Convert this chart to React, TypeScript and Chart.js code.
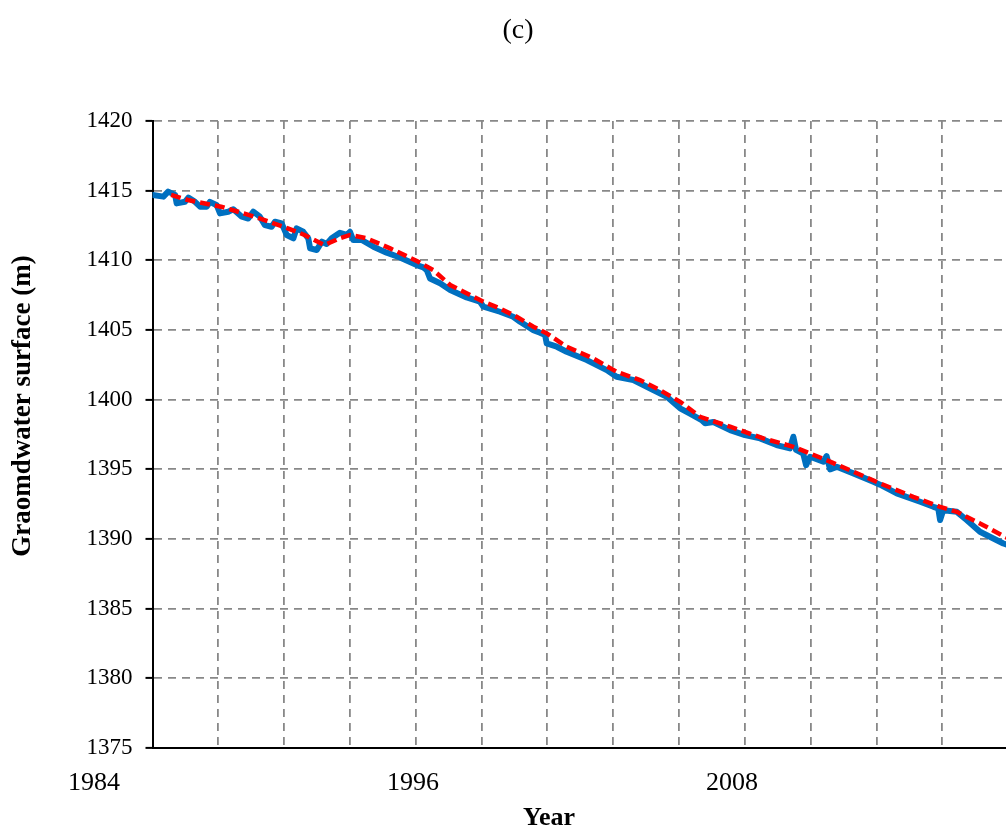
import React, { useEffect, useRef } from "react";
import { Chart, registerables } from "chart.js";

Chart.register(...registerables);

const TITLE = "(c)";
const X_TITLE = "Year";
const Y_TITLE = "Graomdwater surface (m)";
const X_LABEL_YEARS = [1984, 1996, 2008];
const X_MIN = 1986.2;
const X_MAX = 2018.31;
const X_GRID_STEP = 2.476;
const X_GRID_COUNT = 14;
const Y_MIN = 1375;
const Y_MAX = 1420;
const Y_STEP = 5;

const obsYears = [
  1986.21, 1986.61, 1986.79, 1987.05, 1987.11, 1987.42, 1987.55, 1987.8, 1987.99, 1988.24,
  1988.36, 1988.62, 1988.74, 1989.05, 1989.24, 1989.56, 1989.8, 1989.99, 1990.24, 1990.43,
  1990.68, 1990.81, 1991.06, 1991.25, 1991.5, 1991.62, 1991.87, 1992.06, 1992.13, 1992.38,
  1992.57, 1992.75, 1992.94, 1993.25, 1993.51, 1993.63, 1993.75, 1994.07, 1994.51, 1995.01,
  1995.51, 1996.14, 1996.39, 1996.52, 1996.64, 1997.02, 1997.4, 1998.02, 1998.52, 1998.65,
  1999.27, 1999.77, 2000.03, 2000.53, 2000.78, 2000.97, 2001.03, 2001.41, 2001.78, 2002.54,
  2003.29, 2003.66, 2004.29, 2005.04, 2005.55, 2006.05, 2006.42, 2006.86, 2006.99, 2007.3,
  2007.93, 2008.49, 2009.06, 2009.68, 2010.18, 2010.31, 2010.41, 2010.68, 2010.79, 2010.94,
  2011.44, 2011.56, 2011.69, 2011.94, 2012.57, 2013.32, 2013.57, 2014.2, 2015.08, 2015.58,
  2015.76, 2015.83, 2015.95, 2016.46, 2016.83, 2017.33, 2018.21, 2018.4,
];
const obsLevels = [
  1414.69, 1414.57, 1414.93, 1414.7, 1414.09, 1414.2, 1414.5, 1414.2, 1413.85, 1413.85,
  1414.2, 1413.95, 1413.37, 1413.49, 1413.66, 1413.13, 1413.0, 1413.49, 1413.13, 1412.53,
  1412.41, 1412.77, 1412.65, 1411.82, 1411.58, 1412.3, 1412.05, 1411.58, 1410.86, 1410.74,
  1411.34, 1411.17, 1411.58, 1411.98, 1411.82, 1412.05, 1411.46, 1411.46, 1410.98, 1410.55,
  1410.2, 1409.66, 1409.5, 1409.3, 1408.7, 1408.35, 1407.87, 1407.34, 1407.03, 1406.67,
  1406.31, 1405.95, 1405.59, 1404.99, 1404.8, 1404.64, 1404.04, 1403.8, 1403.44, 1402.84,
  1402.12, 1401.64, 1401.41, 1400.69, 1400.21, 1399.38, 1399.0, 1398.53, 1398.3, 1398.4,
  1397.82, 1397.46, 1397.22, 1396.74, 1396.5, 1397.34, 1396.4, 1396.14, 1395.3, 1395.9,
  1395.55, 1395.95, 1395.0, 1395.18, 1394.71, 1394.11, 1393.9, 1393.27, 1392.67, 1392.31,
  1392.2, 1391.36, 1392.07, 1391.95, 1391.36, 1390.52, 1389.68, 1389.55,
];

const simYears = [
  1986.9, 1987.53, 1988.78, 1990.04, 1991.29, 1991.92, 1992.67, 1993.25, 1993.63, 1994.26,
  1995.14, 1996.2, 1996.76, 1997.4, 1998.65, 1999.27, 1999.9, 2000.53, 2001.03, 2001.78,
  2002.78, 2003.66, 2004.54, 2005.29, 2006.05, 2006.8, 2007.93, 2009.18, 2010.31, 2011.56,
  2012.57, 2013.57, 2014.82, 2015.83, 2016.46, 2017.33, 2018.27, 2018.4,
];
const simLevels = [
  1414.7, 1414.33, 1413.85, 1413.13, 1412.3, 1411.82, 1411.1, 1411.58, 1411.82, 1411.58,
  1410.86, 1409.9, 1409.3, 1408.23, 1407.03, 1406.55, 1405.95, 1405.24, 1404.76, 1403.8,
  1402.96, 1402.0, 1401.41, 1400.69, 1399.85, 1398.77, 1398.06, 1397.22, 1396.62, 1395.66,
  1394.83, 1393.99, 1393.03, 1392.31, 1391.95, 1391.12, 1390.16, 1390.05,
];

const SERIF = '"Liberation Serif", "Times New Roman", serif';

const textPlugin = {
  id: "textPlugin",
  afterDraw(chart: any) {
    const { ctx } = chart;
    const xs = chart.scales.x;
    ctx.save();
    ctx.fillStyle = "#000";
    ctx.textAlign = "center";
    ctx.textBaseline = "middle";
    ctx.font = `26px ${SERIF}`;
    X_LABEL_YEARS.forEach((yr) => {
      ctx.fillText(String(yr), xs.getPixelForValue(yr), 783);
    });
    ctx.font = `bold 26px ${SERIF}`;
    ctx.fillText(X_TITLE, 549, 818);
    ctx.font = `28px ${SERIF}`;
    ctx.fillText(TITLE, 518, 31);
    ctx.translate(23, 406);
    ctx.rotate(-Math.PI / 2);
    ctx.font = `bold 27px ${SERIF}`;
    ctx.fillText(Y_TITLE, 0, 0);
    ctx.restore();
  },
};

export default function App() {
  const canvasRef = useRef<HTMLCanvasElement | null>(null);

  useEffect(() => {
    const canvas = canvasRef.current;
    if (!canvas) return;
    const obs = obsYears.map((x, i) => ({ x, y: obsLevels[i] }));
    const sim = simYears.map((x, i) => ({ x, y: simLevels[i] }));
    const gridValues = Array.from({ length: X_GRID_COUNT }, (_, k) => X_MIN + k * X_GRID_STEP);

    const chart = new Chart(canvas, {
      type: "line",
      data: {
        datasets: [
          {
            label: "Observed",
            data: obs,
            borderColor: "#0070C0",
            borderWidth: 6,
            pointRadius: 0,
            tension: 0,
            borderJoinStyle: "round",
            borderCapStyle: "round",
            order: 2,
          },
          {
            label: "Simulated",
            data: sim,
            borderColor: "#FF0000",
            borderWidth: 4.5,
            borderDash: [10, 5],
            pointRadius: 0,
            tension: 0,
            order: 1,
          },
        ],
      },
      options: {
        animation: false,
        responsive: false,
        devicePixelRatio: 1,
        events: [],
        layout: { padding: { top: 121, bottom: 82, left: 0, right: 0 } },
        plugins: {
          legend: { display: false },
          tooltip: { enabled: false },
          title: { display: false },
        },
        scales: {
          x: {
            type: "linear",
            min: X_MIN,
            max: X_MAX,
            afterBuildTicks: (s: any) => {
              s.ticks = gridValues.map((v) => ({ value: v }));
            },
            afterFit: (s: any) => {
              s.height = 0;
            },
            ticks: { display: false },
            grid: { color: "#888888", lineWidth: 1.8, drawTicks: false },
            border: { display: true, color: "#000", width: 2, dash: [8, 6] },
          },
          y: {
            type: "linear",
            min: Y_MIN,
            max: Y_MAX,
            afterFit: (s: any) => {
              s.width = 152.5;
            },
            ticks: {
              stepSize: Y_STEP,
              color: "#000",
              padding: 13,
              font: { family: SERIF, size: 23 },
              callback: (v: any) => String(v),
            },
            grid: {
              color: "#888888",
              lineWidth: 1.8,
              tickColor: "#000",
              tickLength: 7,
              tickWidth: 2,
              tickBorderDash: [],
            },
            border: { display: true, color: "#000", width: 2, dash: [8, 6] },
          },
        },
      },
      plugins: [textPlugin],
    } as any);

    return () => chart.destroy();
  }, []);

  return (
    <div style={{ position: "absolute", left: 0, top: 0, width: 1006, height: 830, background: "#fff" }}>
      <canvas ref={canvasRef} width={1006} height={830} style={{ display: "block" }} />
    </div>
  );
}
